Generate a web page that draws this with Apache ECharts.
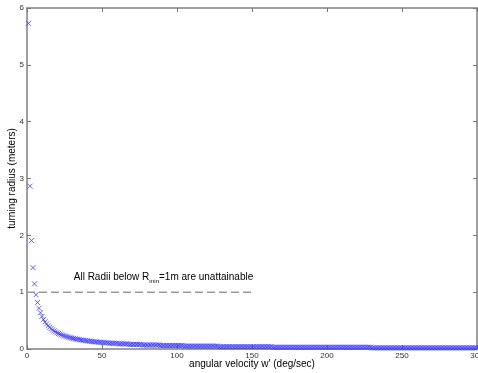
<!DOCTYPE html>
<html>
<head>
<meta charset="utf-8">
<script src="https://cdn.jsdelivr.net/npm/echarts@6/dist/echarts.min.js"></script>
<style>
  html, body { margin: 0; padding: 0; background: #fff; overflow: hidden; }
  #chart { width: 478px; height: 373px; }
</style>
</head>
<body>
<div id="chart"></div>
<script>
// turning radius (m), one sample per deg/sec from 1 to 300
var radius = [
  5.73, 2.865, 1.910, 1.432, 1.146, 0.955, 0.819, 0.716, 0.637, 0.573,
  0.521, 0.477, 0.441, 0.409, 0.382, 0.358, 0.337, 0.318, 0.302, 0.286,
  0.273, 0.260, 0.249, 0.239, 0.229, 0.220, 0.212, 0.205, 0.198, 0.191,
  0.185, 0.179, 0.174, 0.169, 0.164, 0.159, 0.155, 0.151, 0.147, 0.143,
  0.140, 0.136, 0.133, 0.130, 0.127, 0.125, 0.122, 0.119, 0.117, 0.115,
  0.11, 0.11, 0.11, 0.11, 0.10, 0.10, 0.10, 0.10, 0.10, 0.10,
  0.09, 0.09, 0.09, 0.09, 0.09, 0.09, 0.09, 0.08, 0.08, 0.08,
  0.08, 0.08, 0.08, 0.08, 0.08, 0.08, 0.07, 0.07, 0.07, 0.07,
  0.07, 0.07, 0.07, 0.07, 0.07, 0.07, 0.07, 0.07, 0.06, 0.06,
  0.06, 0.06, 0.06, 0.06, 0.06, 0.06, 0.06, 0.06, 0.06, 0.06,
  0.06, 0.06, 0.06, 0.06, 0.05, 0.05, 0.05, 0.05, 0.05, 0.05,
  0.05, 0.05, 0.05, 0.05, 0.05, 0.05, 0.05, 0.05, 0.05, 0.05,
  0.05, 0.05, 0.05, 0.05, 0.05, 0.05, 0.05, 0.04, 0.04, 0.04,
  0.04, 0.04, 0.04, 0.04, 0.04, 0.04, 0.04, 0.04, 0.04, 0.04,
  0.04, 0.04, 0.04, 0.04, 0.04, 0.04, 0.04, 0.04, 0.04, 0.04,
  0.04, 0.04, 0.04, 0.04, 0.04, 0.04, 0.04, 0.04, 0.04, 0.04,
  0.04, 0.04, 0.04, 0.03, 0.03, 0.03, 0.03, 0.03, 0.03, 0.03,
  0.03, 0.03, 0.03, 0.03, 0.03, 0.03, 0.03, 0.03, 0.03, 0.03,
  0.03, 0.03, 0.03, 0.03, 0.03, 0.03, 0.03, 0.03, 0.03, 0.03,
  0.03, 0.03, 0.03, 0.03, 0.03, 0.03, 0.03, 0.03, 0.03, 0.03,
  0.03, 0.03, 0.03, 0.03, 0.03, 0.03, 0.03, 0.03, 0.03, 0.03,
  0.03, 0.03, 0.03, 0.03, 0.03, 0.03, 0.03, 0.03, 0.03, 0.03,
  0.03, 0.03, 0.03, 0.03, 0.03, 0.03, 0.03, 0.03, 0.03, 0.02,
  0.02, 0.02, 0.02, 0.02, 0.02, 0.02, 0.02, 0.02, 0.02, 0.02,
  0.02, 0.02, 0.02, 0.02, 0.02, 0.02, 0.02, 0.02, 0.02, 0.02,
  0.02, 0.02, 0.02, 0.02, 0.02, 0.02, 0.02, 0.02, 0.02, 0.02,
  0.02, 0.02, 0.02, 0.02, 0.02, 0.02, 0.02, 0.02, 0.02, 0.02,
  0.02, 0.02, 0.02, 0.02, 0.02, 0.02, 0.02, 0.02, 0.02, 0.02,
  0.02, 0.02, 0.02, 0.02, 0.02, 0.02, 0.02, 0.02, 0.02, 0.02,
  0.02, 0.02, 0.02, 0.02, 0.02, 0.02, 0.02, 0.02, 0.02, 0.02
];
var omegaStart = 1; // deg/sec, step of 1
var rminLine = [[0, 1], [150, 1]];
var noteAt = [91, 1.27];

var points = radius.map(function (r, i) { return [omegaStart + i, r]; });

var axisGray = '#999999';
var markBlue = '#3a3aff';
var labelStyle = { color: '#333', fontSize: 8, fontFamily: 'Liberation Sans' };
var nameStyle = { color: '#000', fontSize: 10, fontFamily: 'Liberation Sans' };

function tick() {
  return { show: true, inside: true, length: 4, lineStyle: { color: '#777' } };
}
function line() {
  return { show: true, onZero: false, lineStyle: { color: axisGray, width: 1.5 } };
}

var chart = echarts.init(document.getElementById('chart'));

chart.setOption({
  animation: false,
  backgroundColor: '#fff',
  grid: {
    left: 27, right: 1, top: 8, bottom: 24, outerBoundsMode: 'none',
    show: true, borderColor: axisGray, borderWidth: 1.5
  },
  xAxis: [{
    type: 'value', min: 0, max: 300, interval: 50,
    name: "angular velocity w' (deg/sec)", nameLocation: 'middle', nameGap: 10,
    nameMoveOverlap: false, nameTextStyle: nameStyle,
    axisLine: line(), axisTick: tick(),
    axisLabel: Object.assign({ margin: 3 }, labelStyle),
    splitLine: { show: false }
  }, {
    type: 'value', min: 0, max: 300, interval: 50, position: 'top',
    axisLine: line(), axisTick: tick(),
    axisLabel: { show: false },
    splitLine: { show: false }
  }],
  yAxis: [{
    type: 'value', min: 0, max: 6, interval: 1,
    name: 'turning radius (meters)', nameLocation: 'middle', nameGap: 10,
    nameMoveOverlap: false, nameTextStyle: nameStyle,
    axisLine: line(), axisTick: tick(),
    axisLabel: Object.assign({ margin: 3 }, labelStyle),
    splitLine: { show: false }
  }, {
    type: 'value', min: 0, max: 6, interval: 1, position: 'right',
    axisLine: line(), axisTick: tick(),
    axisLabel: { show: false },
    splitLine: { show: false }
  }],
  series: [{
    type: 'line',
    data: rminLine,
    symbol: 'none',
    silent: true,
    lineStyle: { color: '#9a9a9a', width: 1.5, type: [8, 4] },
    z: 1
  }, {
    type: 'scatter',
    data: points,
    symbol: 'path://M0,0L10,10M10,0L0,10',
    symbolSize: 5,
    silent: true,
    itemStyle: { color: markBlue, borderColor: markBlue, borderWidth: 0.8, opacity: 1 },
    z: 2
  }]
});

var p = chart.convertToPixel({ gridIndex: 0 }, noteAt);
chart.setOption({
  graphic: [{
    type: 'text',
    x: p[0], y: p[1],
    silent: true,
    style: {
      text: '{a|All Radii below R}{s|min}{a|=1m are unattainable}',
      align: 'center', verticalAlign: 'middle',
      rich: {
        a: { fontSize: 10, fontFamily: 'Liberation Sans', fill: '#000', lineHeight: 16, verticalAlign: 'middle' },
        s: { fontSize: 6, fontFamily: 'Liberation Sans', fill: '#000', lineHeight: 16, verticalAlign: 'bottom' }
      }
    }
  }]
});
</script>
</body>
</html>
